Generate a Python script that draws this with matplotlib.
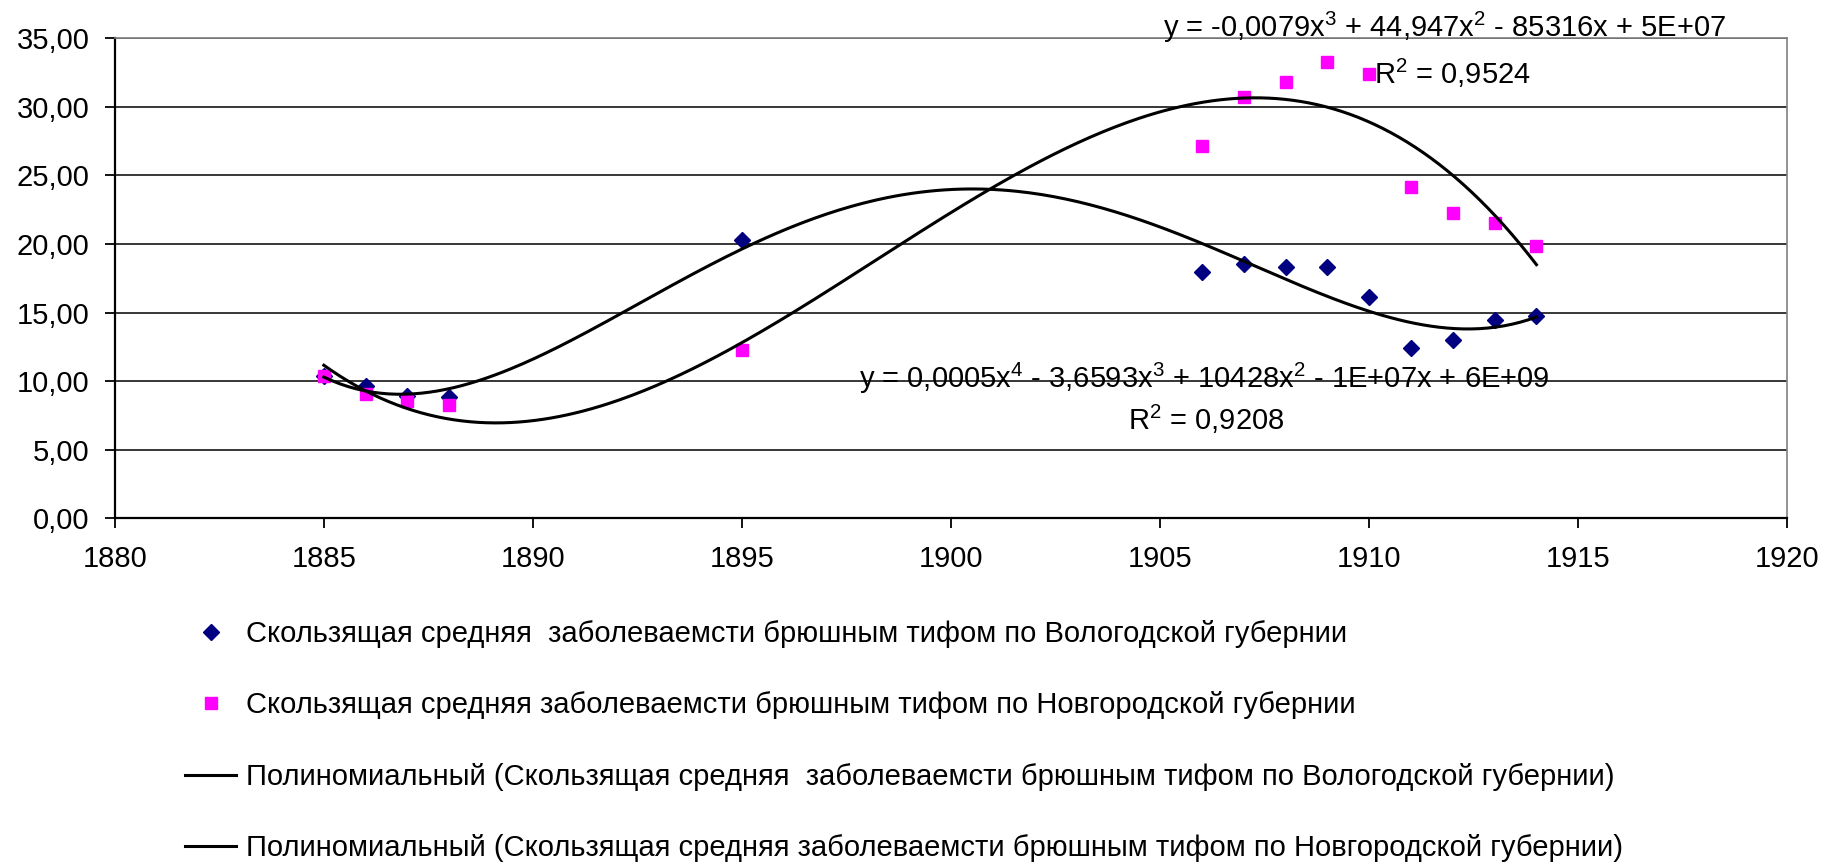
import numpy as np
import matplotlib
matplotlib.use('Agg')
import matplotlib.pyplot as plt
from matplotlib.ticker import FuncFormatter, MultipleLocator

plt.rcParams['font.family'] = ['Liberation Sans', 'DejaVu Sans']
plt.rcParams['mathtext.fontset'] = 'custom'
plt.rcParams['mathtext.rm'] = 'Liberation Sans'
plt.rcParams['mathtext.it'] = 'Liberation Sans'

# Data
years = [1885, 1886, 1887, 1888, 1895, 1906, 1907, 1908, 1909, 1910, 1911, 1912, 1913, 1914]
vologda = [10.40, 9.62, 8.94, 8.81, 20.27, 17.98, 18.50, 18.29, 18.29, 16.16, 12.44, 12.99, 14.47, 14.73]
novgorod = [10.39, 9.07, 8.52, 8.24, 12.30, 27.12, 30.71, 31.80, 33.26, 32.40, 24.14, 22.27, 21.54, 19.85]

label_vol = 'Скользящая средняя  заболеваемсти брюшным тифом по Вологодской губернии'
label_nov = 'Скользящая средняя заболеваемсти брюшным тифом по Новгородской губернии'
eq_vol = r'y = 0,0005x$^4$ - 3,6593x$^3$ + 10428x$^2$ - 1E+07x + 6E+09'
r2_vol = r'R$^2$ = 0,9208'
eq_nov = r'y = -0,0079x$^3$ + 44,947x$^2$ - 85316x + 5E+07'
r2_nov = r'R$^2$ = 0,9524'

x = np.array(years, dtype=float)
x0 = 1900.0
# polynomial trendlines (fit on centred years for numerical stability)
p_vol = np.polyfit(x - x0, vologda, 4)
p_nov = np.polyfit(x - x0, novgorod, 3)
xs = np.linspace(x.min(), x.max(), 300)

fig = plt.figure(figsize=(18.36, 8.64), dpi=100)
ax = fig.add_axes([0.0625, 0.4, 0.911, 0.556])

ax.set_axisbelow(True)
ax.grid(axis='y', color='black', linewidth=1.1)

ax.plot(x, vologda, linestyle='none', marker='D', color='#000080', markersize=8, label=label_vol, zorder=3)
ax.plot(x, novgorod, linestyle='none', marker='s', color='#FF00FF', markersize=8, label=label_nov, zorder=3)
ax.plot(xs, np.polyval(p_vol, xs - x0), color='black', linewidth=2.2,
        label='Полиномиальный (' + label_vol + ')', zorder=4)
ax.plot(xs, np.polyval(p_nov, xs - x0), color='black', linewidth=2.2,
        label='Полиномиальный (' + label_nov + ')', zorder=4)

ax.set_xlim(1880, 1920)
ax.set_ylim(0, 35)
ax.xaxis.set_major_locator(MultipleLocator(5))
ax.yaxis.set_major_locator(MultipleLocator(5))
ax.yaxis.set_major_formatter(FuncFormatter(lambda v, p: f'{v:.2f}'.replace('.', ',')))
ax.tick_params(axis='both', labelsize=21, length=7, width=1.3, color='black')
ax.tick_params(axis='x', pad=12)
ax.tick_params(axis='y', pad=11)

for side in ['left', 'bottom']:
    ax.spines[side].set_color('black')
    ax.spines[side].set_linewidth(1.6)
for side in ['top', 'right']:
    ax.spines[side].set_color('#808080')
    ax.spines[side].set_linewidth(1.2)

# trendline equations
fig.text(1444 / 1836, 1 - 27 / 864, eq_nov, fontsize=21, ha='center', va='center')
fig.text(1452 / 1836, 1 - 73 / 864, r2_nov, fontsize=21, ha='center', va='center')
fig.text(1204 / 1836, 1 - 378 / 864, eq_vol, fontsize=21, ha='center', va='center')
fig.text(1206 / 1836, 1 - 419 / 864, r2_vol, fontsize=21, ha='center', va='center')

fig.legend(loc='upper left', bbox_to_anchor=(185 / 1836, 1 - 620 / 864), frameon=False,
           fontsize=21, handlelength=1.75, handletextpad=0.35, labelspacing=1.49,
           borderpad=0, borderaxespad=0)

fig.savefig('out.png', dpi=100)
